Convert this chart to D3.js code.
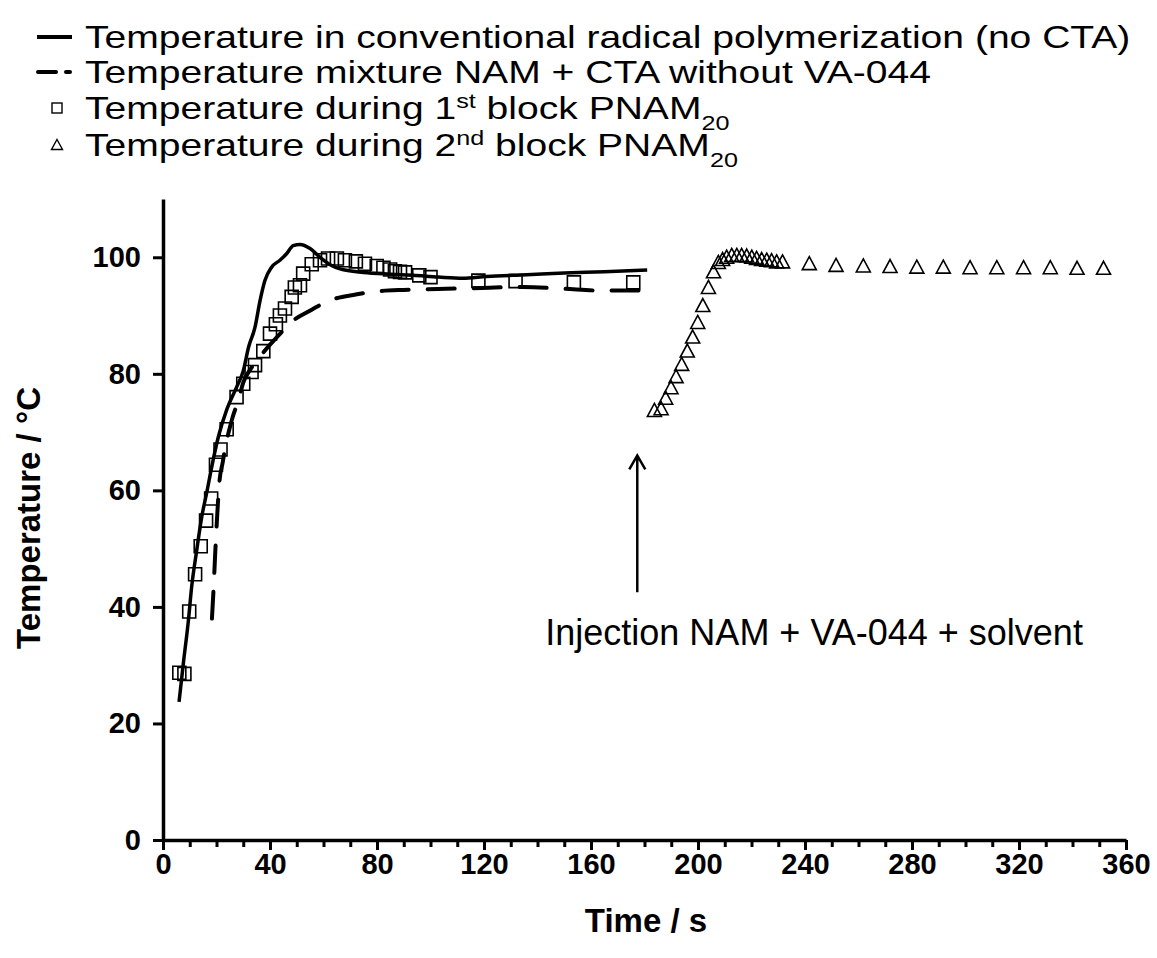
<!DOCTYPE html>
<html>
<head>
<meta charset="utf-8">
<script src="https://cdn.jsdelivr.net/npm/d3@7"></script>
<style>
  body { margin: 0; background: #fff; }
  svg text { font-family: "Liberation Sans", Arial, sans-serif; fill: #000; }
</style>
</head>
<body>
<svg id="chart" width="1157" height="958"></svg>
<script>
// solid line: conventional radical polymerization (no CTA)
var convTime = [6, 7.6, 9.5, 10.7, 12.6, 14.5, 16.3, 18.2, 20.7, 23.8, 27.6, 30, 32, 34.4, 36.3, 38.1, 40.6, 43.7, 46.2, 48.7, 51.2, 55, 58.7, 63, 66.2, 75, 85, 93.5, 103, 112, 121, 136, 150, 165, 181];
var convTemp = [23.7, 30.3, 37.7, 43.4, 49.7, 55.5, 59.5, 64, 69.2, 73.8, 77.8, 80.5, 84.6, 88, 92.6, 96, 98.3, 99.5, 100.6, 102, 102.2, 101.5, 100, 98.6, 98, 97.4, 97.1, 96.9, 96.6, 96.4, 96.7, 97, 97.3, 97.5, 97.8];

// dashed line: NAM + CTA without VA-044
var ctaTime = [18.3, 19.0, 19.6, 20.3, 21.0, 22.4, 23.3, 24.4, 26, 28.2, 30, 33, 36, 40, 44, 48, 54, 63.6, 72, 81, 90, 98.6, 116, 134.6, 150, 163, 180];
var ctaTemp = [38, 44, 50, 56, 61, 65, 67.5, 69.7, 72.5, 75.5, 78.5, 81, 82.8, 85, 87, 88.9, 90.6, 92.8, 93.6, 94.2, 94.4, 94.5, 94.7, 94.9, 94.6, 94.3, 94.3];

// squares: 1st block PNAM20
var block1Time = [6.1, 8, 9.8, 12, 14.1, 16.1, 18, 19.8, 21.5, 23.8, 27.5, 30, 33.1, 34.4, 37.5, 40, 42.2, 43.7, 45.6, 48.1, 49.3, 51.2, 52.4, 55.6, 58.7, 61.7, 65, 68, 72.1, 75.5, 79.9, 82.4, 84.9, 86.7, 88.6, 90.5, 95.8, 100, 117.9, 131.8, 153.6, 175.8];
var block1Temp = [28.7, 28.5, 39.2, 45.6, 50.4, 54.8, 58.6, 64.4, 67, 70.5, 76, 78.3, 80.3, 81.5, 83.9, 86.9, 88.5, 90, 91.2, 93.2, 94.8, 95.2, 97.2, 98.8, 99.5, 99.8, 99.8, 99.5, 99.3, 98.9, 98.5, 98.2, 97.9, 97.6, 97.5, 97.4, 96.9, 96.6, 96, 95.9, 95.7, 95.7];

// triangles: 2nd block PNAM20
var block2Time = [183.7, 186.2, 187.9, 189.9, 191.8, 193.9, 196, 198, 199.9, 201.8, 203.9, 205.8, 207.6, 209.2, 210.7, 212.6, 214.5, 216.3, 218.2, 220.1, 221.9, 223.8, 225.7, 227.5, 229.4, 231.6, 241.6, 251.6, 261.8, 271.8, 281.8, 291.7, 301.7, 311.7, 321.7, 331.7, 341.7, 351.6];
var block2Temp = [73.8, 74.1, 75.9, 77.7, 79.6, 81.7, 84, 86.4, 88.9, 91.8, 94.9, 97.6, 99.2, 99.7, 100.1, 100.4, 100.4, 100.4, 100.3, 100.1, 99.9, 99.7, 99.6, 99.5, 99.3, 99.3, 99.0, 98.7, 98.6, 98.5, 98.4, 98.4, 98.3, 98.3, 98.3, 98.3, 98.2, 98.2];

var xTicks = [0, 40, 80, 120, 160, 200, 240, 280, 320, 360];
var xMinorTicks = d3.range(0, 361, 10).filter(d => d % 40 !== 0);
var yTicks = [0, 20, 40, 60, 80, 100];

// injection arrow (time, from temp, to temp) and its label
var arrowAt = [177.3, 42.5, 66];
var injectionLabel = "Injection NAM + VA-044 + solvent";
var injectionAt = [243.4, 33.4];

var legendLabels = [
  ["Temperature in conventional radical polymerization (no CTA)"],
  ["Temperature mixture NAM + CTA without VA-044"],
  ["Temperature during 1", ["st", "sup"], " block PNAM", ["20", "sub"]],
  ["Temperature during 2", ["nd", "sup"], " block PNAM", ["20", "sub"]]
];

var svg = d3.select("#chart");

var x = d3.scaleLinear().domain([0, 360]).range([163, 1126]);
var y = d3.scaleLinear().domain([0, 110]).range([840, 199]);

// minor x ticks
svg.append("g")
  .attr("class", "axis minor")
  .attr("transform", "translate(0,840)")
  .call(d3.axisBottom(x).tickValues(xMinorTicks).tickSize(7).tickFormat(""))
  .call(g => g.select(".domain").remove());

svg.append("g")
  .attr("class", "axis")
  .attr("transform", "translate(0,840)")
  .call(d3.axisBottom(x).tickValues(xTicks).tickSize(10).tickSizeOuter(0).tickPadding(3));

svg.append("g")
  .attr("class", "axis")
  .attr("transform", "translate(163,0)")
  .call(d3.axisLeft(y).tickValues(yTicks).tickSize(10).tickSizeOuter(0).tickPadding(12));

svg.selectAll(".axis .domain").attr("stroke", "#000").attr("stroke-width", 3.5);
svg.selectAll(".axis .tick line").attr("stroke", "#000").attr("stroke-width", 3);
svg.selectAll(".axis text")
  .style("font-size", "29px")
  .style("font-weight", "bold");

// axis titles
svg.append("text")
  .attr("x", 646)
  .attr("y", 932)
  .attr("text-anchor", "middle")
  .style("font-size", "33px")
  .style("font-weight", "bold")
  .text("Time / s");

svg.append("text")
  .attr("transform", "translate(40,518) rotate(-90)")
  .attr("text-anchor", "middle")
  .style("font-size", "33px")
  .style("font-weight", "bold")
  .text("Temperature / °C");

// lines
var line = d3.line()
  .x(d => x(d[0]))
  .y(d => y(d[1]))
  .curve(d3.curveMonotoneX);

svg.append("path")
  .attr("d", line(d3.zip(convTime, convTemp)))
  .attr("fill", "none")
  .attr("stroke", "#000")
  .attr("stroke-width", 3.5);

svg.append("path")
  .attr("d", line(d3.zip(ctaTime, ctaTemp)))
  .attr("fill", "none")
  .attr("stroke", "#000")
  .attr("stroke-width", 4)
  .attr("stroke-linecap", "round")
  .attr("stroke-dasharray", "27,19");

// markers
var squarePath = "M-6.5,-6.5H6.5V6.5H-6.5Z";
var trianglePath = "M0,-6.5L7,6.5H-7Z";

svg.append("g").selectAll("path")
  .data(d3.zip(block1Time, block1Temp))
  .join("path")
  .attr("transform", d => "translate(" + x(d[0]) + "," + y(d[1]) + ")")
  .attr("d", squarePath)
  .attr("fill", "none")
  .attr("stroke", "#000")
  .attr("stroke-width", 1.6);

svg.append("g").selectAll("path")
  .data(d3.zip(block2Time, block2Temp))
  .join("path")
  .attr("transform", d => "translate(" + x(d[0]) + "," + y(d[1]) + ")")
  .attr("d", trianglePath)
  .attr("fill", "none")
  .attr("stroke", "#000")
  .attr("stroke-width", 1.6);

// injection arrow
var ax = x(arrowAt[0]), ay0 = y(arrowAt[1]), ay1 = y(arrowAt[2]);
svg.append("path")
  .attr("d", "M" + ax + "," + ay0 + "V" + ay1 + "M" + (ax - 8) + "," + (ay1 + 14) + "L" + ax + "," + ay1 + "L" + (ax + 8) + "," + (ay1 + 14))
  .attr("fill", "none")
  .attr("stroke", "#000")
  .attr("stroke-width", 2.5);

svg.append("text")
  .attr("x", x(injectionAt[0]))
  .attr("y", y(injectionAt[1]))
  .attr("text-anchor", "middle")
  .style("font-size", "36px")
  .text(injectionLabel);

// legend
var legend = svg.append("g").attr("class", "legend");
var rowY = [37, 72, 108, 145];

legend.append("line")
  .attr("x1", 37).attr("x2", 72).attr("y1", rowY[0]).attr("y2", rowY[0])
  .attr("stroke", "#000").attr("stroke-width", 4);
legend.append("line")
  .attr("x1", 38).attr("x2", 72).attr("y1", rowY[1]).attr("y2", rowY[1])
  .attr("stroke", "#000").attr("stroke-width", 4).attr("stroke-linecap", "round")
  .attr("stroke-dasharray", "18,10,4,99");
legend.append("rect")
  .attr("x", 52).attr("y", rowY[2] - 5).attr("width", 10).attr("height", 10)
  .attr("fill", "none").attr("stroke", "#000").attr("stroke-width", 1.4);
legend.append("path")
  .attr("transform", "translate(57," + rowY[3] + ")")
  .attr("d", "M0,-5.5L5.5,4.5H-5.5Z")
  .attr("fill", "none").attr("stroke", "#000").attr("stroke-width", 1.4);

// legend text is a little wider than it is tall in the original
legendLabels.forEach(function(parts, i) {
  var t = legend.append("text")
    .attr("transform", "translate(85," + (rowY[i] + 11) + ") scale(1.26,1)")
    .style("font-size", "31px");
  parts.forEach(function(p) {
    if (typeof p === "string") {
      t.append("tspan").text(p);
    } else {
      t.append("tspan")
        .attr("baseline-shift", p[1] === "sup" ? "super" : "sub")
        .style("font-size", "20px")
        .text(p[0]);
    }
  });
});
</script>
</body>
</html>
